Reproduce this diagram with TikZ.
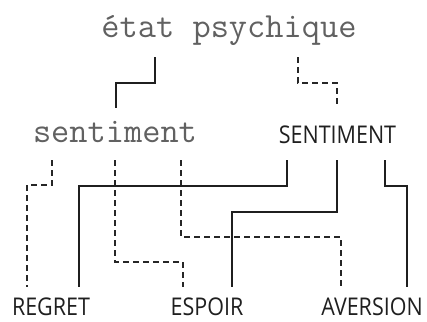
\documentclass[tikz,border=0pt]{standalone}
\usepackage{fontspec}
\setmainfont{Open Sans}
\newfontfamily\capsfont[FakeStretch=0.88]{Open Sans}
\begin{document}
\begin{tikzpicture}[x=1bp,y=-1bp,
  mono/.style={font=\ttfamily\fontsize{35.5}{36}\selectfont, text=black!62, inner sep=0pt, anchor=base},
  caps/.style={font=\capsfont\fontsize{24.5}{25}\selectfont, text=black!88, inner sep=0pt, anchor=base},
  solidlink/.style={line width=2.7bp, black!88},
  dashlink/.style={line width=1.2bp, black!85, dash pattern=on 6bp off 4bp}]
\useasboundingbox (0,0) rectangle (427,322);
\node[mono] (etat) at (229,37) {état psychique};
\node[mono] (sent) at (115,142) {sentiment};
\node[caps] (SENT) at (337.5,143) {SENTIMENT};
\node[caps] (regret) at (51,315.5) {REGRET};
\node[caps] (espoir) at (207,315.5) {ESPOIR};
\node[caps] (aversion) at (372,315.5) {AVERSION};
% ports
\coordinate (e1) at (155,57); \coordinate (e2) at (298,57);
\coordinate (s1) at (116,108); \coordinate (S1) at (337,108);
\coordinate (a1) at (52,160); \coordinate (a2) at (115,160); \coordinate (a3) at (181,160);
\coordinate (b1) at (287,160); \coordinate (b2) at (337,160); \coordinate (b3) at (385,160);
\coordinate (r1) at (27,287); \coordinate (r2) at (79,287);
\coordinate (p1) at (183,287); \coordinate (p2) at (232,287);
\coordinate (v1) at (341,287); \coordinate (v2) at (407,287);
\draw[solidlink] (e1) -- (155,83) -- (116,83) -- (s1);
\draw[dashlink] (e2) -- (298,83) -- (337,83) -- (S1);
\draw[dashlink] (a1) -- (52,185) -- (27,185) -- (r1);
\draw[dashlink] (a2) -- (115,262) -- (183,262) -- (p1);
\draw[dashlink] (a3) -- (181,237) -- (341,237) -- (v1);
\draw[solidlink] (b1) -- (287,186) -- (79,186) -- (r2);
\draw[solidlink] (b2) -- (337,212) -- (232,212) -- (p2);
\draw[solidlink] (b3) -- (385,186) -- (407,186) -- (v2);
\end{tikzpicture}
\end{document}
